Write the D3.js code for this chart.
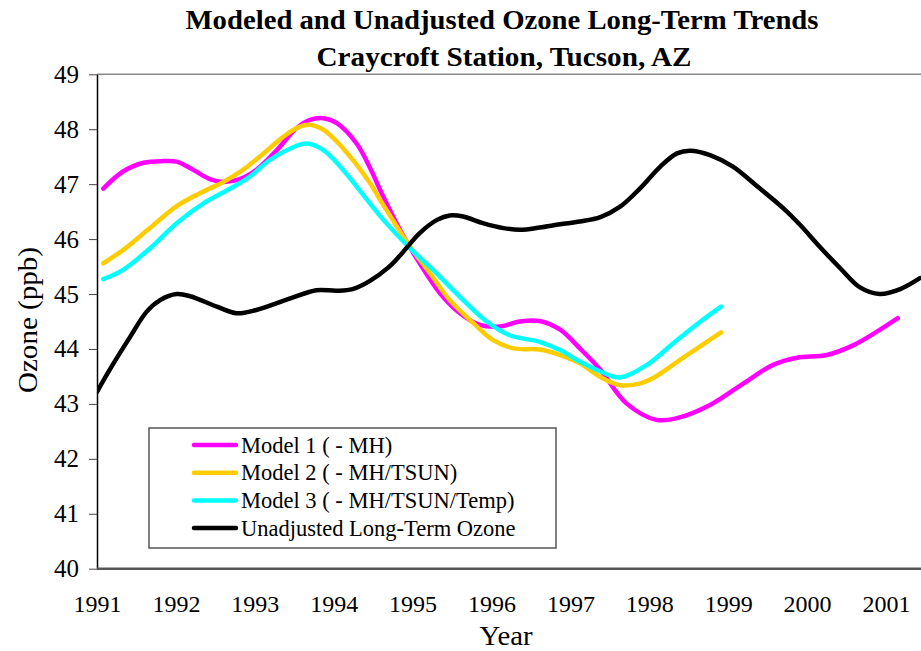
<head>
	<script src="https://d3js.org/d3.v7.min.js"></script>
	<style type="text/css">
		body { margin: 0; background: #fff; }
		text { font-family: "Liberation Serif", "Times New Roman", serif; fill: #000; }
	</style>
</head>
<body>
	<script type="text/javascript">
		// values (year, ppb)
		const model1Years = [1991.08, 1991.33, 1991.59, 1991.84, 1992.01, 1992.22, 1992.43, 1992.60, 1992.81, 1993.02, 1993.28, 1993.53, 1993.70, 1993.87, 1994.04, 1994.29, 1994.46, 1994.59, 1994.84, 1995.09, 1995.35, 1995.60, 1995.85, 1996.11, 1996.36, 1996.61, 1996.87, 1997.12, 1997.38, 1997.71, 1998.09, 1998.35, 1998.77, 1999.19, 1999.57, 1999.87, 2000.25, 2000.59, 2000.88, 2001.15]
		const model1 = [46.92, 47.23, 47.39, 47.42, 47.41, 47.26, 47.09, 47.04, 47.09, 47.26, 47.62, 48.02, 48.17, 48.20, 48.11, 47.74, 47.30, 46.89, 46.17, 45.56, 45.01, 44.65, 44.44, 44.41, 44.50, 44.51, 44.35, 44.01, 43.62, 43.01, 42.71, 42.74, 42.98, 43.37, 43.71, 43.84, 43.89, 44.07, 44.31, 44.56]

		const model2Years = [1991.08, 1991.33, 1991.67, 1992.01, 1992.31, 1992.60, 1992.85, 1993.11, 1993.36, 1993.53, 1993.68, 1993.87, 1994.12, 1994.46, 1994.59, 1994.97, 1995.22, 1995.47, 1995.77, 1996.02, 1996.28, 1996.61, 1996.87, 1997.12, 1997.38, 1997.63, 1997.88, 1998.05, 1998.39, 1998.73, 1998.91]
		const model2 = [45.56, 45.80, 46.20, 46.60, 46.84, 47.04, 47.26, 47.56, 47.86, 48.02, 48.08, 47.99, 47.65, 47.02, 46.71, 45.86, 45.38, 44.89, 44.47, 44.16, 44.01, 43.99, 43.89, 43.74, 43.49, 43.34, 43.37, 43.47, 43.80, 44.13, 44.30]

		const model3Years = [1991.08, 1991.33, 1991.67, 1992.01, 1992.35, 1992.69, 1992.94, 1993.19, 1993.45, 1993.66, 1993.87, 1994.12, 1994.46, 1994.63, 1994.97, 1995.26, 1995.60, 1995.94, 1996.23, 1996.61, 1996.87, 1997.12, 1997.38, 1997.63, 1997.97, 1998.30, 1998.65, 1998.91]
		const model3 = [45.27, 45.44, 45.83, 46.29, 46.65, 46.92, 47.14, 47.44, 47.65, 47.74, 47.62, 47.26, 46.65, 46.35, 45.83, 45.44, 44.95, 44.50, 44.25, 44.13, 43.98, 43.77, 43.59, 43.48, 43.71, 44.10, 44.50, 44.77]

		const rawYears = [1991.00, 1991.16, 1991.42, 1991.63, 1991.80, 1992.01, 1992.18, 1992.52, 1992.77, 1993.02, 1993.45, 1993.78, 1994.04, 1994.24, 1994.46, 1994.69, 1994.84, 1995.09, 1995.31, 1995.47, 1995.64, 1995.89, 1996.15, 1996.36, 1996.61, 1996.87, 1997.12, 1997.38, 1997.63, 1997.88, 1998.14, 1998.35, 1998.52, 1998.77, 1999.06, 1999.36, 1999.70, 1999.91, 2000.16, 2000.42, 2000.67, 2000.92, 2001.18, 2001.43]
		const unadjusted = [43.22, 43.62, 44.22, 44.68, 44.89, 45.00, 44.96, 44.77, 44.65, 44.71, 44.92, 45.07, 45.06, 45.09, 45.24, 45.48, 45.70, 46.11, 46.35, 46.43, 46.41, 46.29, 46.20, 46.17, 46.21, 46.27, 46.32, 46.40, 46.59, 46.92, 47.32, 47.56, 47.61, 47.53, 47.32, 46.97, 46.56, 46.26, 45.86, 45.47, 45.12, 45.00, 45.09, 45.29]

		const xTicks = [1991, 1992, 1993, 1994, 1995, 1996, 1997, 1998, 1999, 2000, 2001]
		const yTicks = [40, 41, 42, 43, 44, 45, 46, 47, 48, 49]

		const series = [
			{name: 'Model 1 ( - MH)', years: model1Years, vals: model1, color: '#ff00ff'},
			{name: 'Model 2 ( - MH/TSUN)', years: model2Years, vals: model2, color: '#ffcc00'},
			{name: 'Model 3 ( - MH/TSUN/Temp)', years: model3Years, vals: model3, color: '#00ffff'},
			{name: 'Unadjusted Long-Term Ozone', years: rawYears, vals: unadjusted, color: '#000000'}
		]

		const width = 921, height = 651
		const svg = d3.select('body').append('svg')
			.attr('width', width)
			.attr('height', height)

		const x = d3.scaleLinear().domain([1991, 2001]).range([97, 886])
		const y = d3.scaleLinear().domain([40, 49]).range([568.7, 74.3])

		// title
		svg.append('text')
			.attr('x', 502).attr('y', 29)
			.attr('text-anchor', 'middle')
			.attr('textLength', 633).attr('lengthAdjust', 'spacingAndGlyphs')
			.style('font-size', '27px').style('font-weight', 'bold')
			.text('Modeled and Unadjusted Ozone Long-Term Trends')
		svg.append('text')
			.attr('x', 504).attr('y', 66)
			.attr('text-anchor', 'middle')
			.attr('textLength', 375).attr('lengthAdjust', 'spacingAndGlyphs')
			.style('font-size', '27px').style('font-weight', 'bold')
			.text('Craycroft Station, Tucson, AZ')

		// plot frame top
		svg.append('line')
			.attr('x1', x(1991)).attr('x2', width)
			.attr('y1', y(49)).attr('y2', y(49))
			.style('stroke', '#888').style('stroke-width', 1.5)

		// y axis
		const yAxis = svg.append('g')
			.attr('transform', 'translate(' + x(1991) + ',0)')
			.call(d3.axisLeft(y).tickValues(yTicks).tickSize(8).tickSizeOuter(0).tickPadding(10))
		yAxis.select('.domain').style('stroke', '#000').style('stroke-width', 1.5)
		yAxis.selectAll('.tick line').style('stroke', '#444')
		yAxis.selectAll('.tick text').style('font-size', '25px').style('font-family', '"Liberation Serif", serif')

		// x axis
		const xAxis = svg.append('g')
			.attr('transform', 'translate(0,' + y(40) + ')')
			.call(d3.axisBottom(x).tickValues(xTicks).tickFormat(d3.format('d')).tickSize(0).tickPadding(26))
		xAxis.select('.domain').attr('d', 'M' + x(1991) + ',0H' + width).style('stroke', '#555').style('stroke-width', 2.5)
		xAxis.selectAll('.tick text').style('font-size', '24px').style('font-family', '"Liberation Serif", serif')

		svg.append('text')
			.attr('x', 506).attr('y', 645)
			.attr('text-anchor', 'middle')
			.attr('textLength', 53).attr('lengthAdjust', 'spacingAndGlyphs')
			.style('font-size', '28px')
			.text('Year')
		svg.append('text')
			.attr('transform', 'translate(37,' + 320 + ') rotate(-90)')
			.attr('text-anchor', 'middle')
			.attr('textLength', 146).attr('lengthAdjust', 'spacingAndGlyphs')
			.style('font-size', '28px')
			.text('Ozone (ppb)')

		// lines
		const line = d3.line()
			.x(d => x(d[0]))
			.y(d => y(d[1]))
			.curve(d3.curveCatmullRom)

		svg.append('defs').append('clipPath').attr('id', 'clip')
			.append('rect').attr('x', x(1991)).attr('y', 0).attr('width', width).attr('height', y(40))

		const lines = svg.append('g').attr('class', 'lines').attr('clip-path', 'url(#clip)')
		lines.selectAll('path')
			.data(series)
			.enter()
			.append('path')
			.attr('d', s => line(s.years.map((yr, i) => [yr, s.vals[i]])))
			.style('fill', 'none')
			.style('stroke', s => s.color)
			.style('stroke-width', 4.5)
			.style('stroke-linecap', 'round')
			.style('stroke-linejoin', 'round')

		// legend
		const legend = svg.append('g').attr('class', 'legend')
		legend.append('rect')
			.attr('x', 149).attr('y', 428).attr('width', 407).attr('height', 120)
			.style('fill', '#fff').style('stroke', '#555').style('stroke-width', 1.5)
		const rows = legend.selectAll('g')
			.data(series)
			.enter()
			.append('g')
			.attr('transform', (d, i) => 'translate(0,' + (445 + i * 27.7) + ')')
		rows.append('line')
			.attr('x1', 194).attr('x2', 236)
			.style('stroke', d => d.color).style('stroke-width', 4.5).style('stroke-linecap', 'round')
		rows.append('text')
			.attr('x', 241).attr('y', 7.5)
			.style('font-size', '22.5px')
			.text(d => d.name)
	</script>
</body>
